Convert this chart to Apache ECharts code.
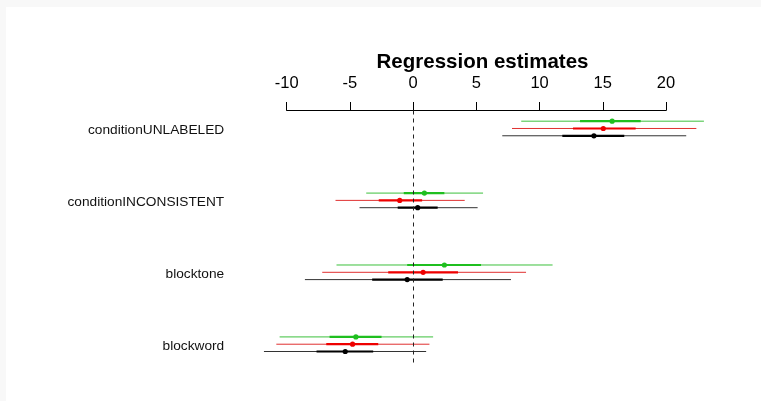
<!DOCTYPE html>
<html>
<head>
<meta charset="utf-8">
<script src="https://cdn.jsdelivr.net/npm/echarts@6/dist/echarts.min.js"></script>
<style>
  html, body { margin: 0; padding: 0; background: #ffffff; }
  #chart { width: 761px; height: 401px; }
</style>
</head>
<body>
<div id="chart"></div>
<script>
// Coefficient terms, top to bottom
const terms = ['conditionUNLABELED', 'conditionINCONSISTENT', 'blocktone', 'blockword'];
const xTicks = [-10, -5, 0, 5, 10, 15, 20];

// Green model: point estimates, inner (thick) and outer (thin) intervals
const greenEst   = [15.74, 0.89, 2.47, -4.53];
const greenInner = [[13.2, 18.0], [-0.74, 2.47], [-0.47, 5.37], [-6.61, -2.50]];
const greenOuter = [[8.55, 23.0], [-3.71, 5.53], [-6.06, 11.03], [-10.56, 1.58]];

// Red model
const redEst   = [15.04, -1.06, 0.79, -4.79];
const redInner = [[12.64, 17.6], [-2.72, 0.71], [-1.97, 3.55], [-6.87, -2.76]];
const redOuter = [[7.82, 22.4], [-6.14, 4.08], [-7.19, 8.93], [-10.82, 1.29]];

// Black model
const blackEst   = [14.3, 0.36, -0.47, -5.37];
const blackInner = [[11.8, 16.7], [-1.22, 1.94], [-3.24, 2.34], [-7.64, -3.16]];
const blackOuter = [[7.05, 21.6], [-4.24, 5.10], [-8.56, 7.74], [-11.80, 1.03]];

const FONT = '"Liberation Sans", Arial, Helvetica, sans-serif';

function rows(est, inner, outer) {
  return terms.map((t, i) => [i, est[i], outer[i][0], outer[i][1], inner[i][0], inner[i][1]]);
}

function coefSeries(est, inner, outer, color, thinColor, dy, extra) {
  return Object.assign({
    type: 'custom',
    clip: false,
    silent: true,
    data: rows(est, inner, outer),
    encode: { x: [1, 2, 3, 4, 5], y: 0 },
    renderItem: function (params, api) {
      const row = api.value(0);
      const pt = api.coord([api.value(1), row]);
      const lo = api.coord([api.value(2), row]);
      const hi = api.coord([api.value(3), row]);
      const loIn = api.coord([api.value(4), row]);
      const hiIn = api.coord([api.value(5), row]);
      const y = pt[1] + dy;
      return {
        type: 'group',
        children: [
          { type: 'line', shape: { x1: lo[0], y1: y, x2: hi[0], y2: y },
            style: { stroke: thinColor, lineWidth: 1 } },
          { type: 'line', shape: { x1: loIn[0], y1: y, x2: hiIn[0], y2: y },
            style: { stroke: color, lineWidth: 2.2 } },
          { type: 'circle', shape: { cx: pt[0], cy: y, r: 2.6 },
            style: { fill: color } }
        ]
      };
    }
  }, extra || {});
}

const chart = echarts.init(document.getElementById('chart'), null, { renderer: 'canvas' });

chart.setOption({
  animation: false,
  backgroundColor: '#ffffff',
  graphic: [
    { type: 'rect', left: 0, top: 0, shape: { width: 6, height: 401 }, style: { fill: '#f8f8f8' }, silent: true },
    { type: 'rect', left: 0, top: 0, shape: { width: 761, height: 7 }, style: { fill: '#f8f8f8' }, silent: true }
  ],
  title: {
    text: 'Regression estimates',
    left: 477.5,
    top: 47,
    textAlign: 'center',
    textStyle: { fontFamily: FONT, fontSize: 20.5, fontWeight: 'bold', color: '#000' }
  },
  grid: { left: 286.7, right: 95, top: 110.5, bottom: 34.5 },
  xAxis: {
    type: 'value',
    position: 'top',
    min: -10,
    max: 20,
    interval: 5,
    splitLine: { show: false },
    axisLine: { show: true, onZero: false, lineStyle: { color: '#000', width: 1 } },
    axisTick: { show: true, inside: false, length: 8.5, lineStyle: { color: '#000', width: 1 } },
    axisLabel: {
      show: true,
      customValues: xTicks,
      margin: 19,
      fontFamily: FONT,
      fontSize: 16.5,
      color: '#000'
    }
  },
  yAxis: {
    type: 'value',
    inverse: true,
    min: -0.25,
    max: 3.31,
    splitLine: { show: false },
    axisLine: { show: false },
    axisTick: { show: false },
    axisLabel: {
      show: true,
      // term labels sit slightly below each row's centre line
      customValues: [0.03, 1.03, 2.03, 3.03],
      formatter: function (v) { return terms[Math.round(v)]; },
      margin: 62.5,
      fontFamily: FONT,
      fontSize: 13.7,
      color: '#111'
    }
  },
  series: [
    coefSeries(blackEst, blackInner, blackOuter, '#000000', '#333333', 7.3, {
      markLine: {
        silent: true,
        symbol: ['none', 'none'],
        label: { show: false },
        lineStyle: { type: [4, 4], color: '#222', width: 1 },
        data: [{ xAxis: 0 }]
      }
    }),
    coefSeries(redEst, redInner, redOuter, '#ee0000', '#e03030', 0),
    coefSeries(greenEst, greenInner, greenOuter, '#1fbf1f', '#3cc03c', -7.3)
  ]
});
</script>
</body>
</html>
